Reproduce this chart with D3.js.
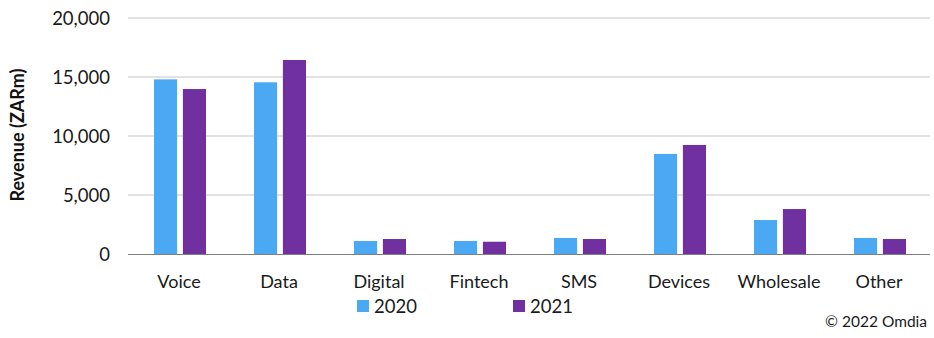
<!DOCTYPE html>
<html><head><meta charset="utf-8">
<script src="https://cdn.jsdelivr.net/npm/d3@7"></script>
<style>body{margin:0;background:#fff}svg{display:block}</style>
</head><body>
<svg id="c" width="934" height="338"></svg>
<script>
const categories = ["Voice","Data","Digital","Fintech","SMS","Devices","Wholesale","Other"];
const seriesNames = ["2020","2021"];
const values2020 = [14800,14550,1100,1100,1360,8480,2880,1360];
const values2021 = [13980,16440,1270,1040,1270,9240,3810,1270];
const yTicks = [0,5000,10000,15000,20000];
const colors = ["#4BA9F4","#7030A0"];
const font = "Lato, 'Open Sans', sans-serif";

const svg = d3.select("#c");
const x = d3.scaleBand().domain(categories).range([129,929]).paddingInner(0).paddingOuter(0);
const y = d3.scaleLinear().domain([0,20000]).range([254,18]);
const xi = d3.scaleBand().domain(seriesNames).range([25,77]).paddingInner(0.2);

// gridlines
svg.append("g").selectAll("line").data(yTicks.filter(d=>d>0)).join("line")
  .attr("x1",128).attr("x2",930).attr("y1",d=>y(d)).attr("y2",d=>y(d))
  .attr("stroke","#d9d9d9").attr("stroke-width",1.5);

// y tick labels
const yAxis = d3.axisLeft(y).tickValues(yTicks).tickFormat(d3.format(",")).tickSize(0).tickPadding(0);
const ya = svg.append("g").attr("transform","translate(110,0)").call(yAxis);
ya.select(".domain").remove();
ya.selectAll("text").attr("font-family",font).attr("font-size",18.5).attr("fill","#1a1a1a").attr("dy","0.35em");

// bars
const data = categories.map((c,i)=>({c, vals:[values2020[i],values2021[i]]}));
const g = svg.append("g").selectAll("g").data(data).join("g")
  .attr("transform",d=>`translate(${x(d.c)},0)`);
g.selectAll("rect").data(d=>d.vals.map((v,j)=>({s:seriesNames[j],v,j}))).join("rect")
  .attr("x",d=>xi(d.s)).attr("width",xi.bandwidth())
  .attr("y",d=>y(d.v)).attr("height",d=>y(0)-y(d.v))
  .attr("fill",d=>colors[d.j]);

// baseline
svg.append("line").attr("x1",128).attr("x2",930).attr("y1",254.5).attr("y2",254.5)
  .attr("stroke","#7f7f7f").attr("stroke-width",1.2);

// x axis labels
const xAxis = d3.axisBottom(x).tickSize(0).tickPadding(0);
const xa = svg.append("g").attr("transform","translate(0,288)").call(xAxis);
xa.select(".domain").remove();
xa.selectAll("text").attr("font-family",font).attr("font-size",18).attr("fill","#1a1a1a").attr("dy",0);

// y title
svg.append("text").attr("transform","translate(24,135) rotate(-90)")
  .attr("text-anchor","middle").attr("font-family",font).attr("font-size",18)
  .attr("font-weight","bold").attr("fill","#111").text("Revenue (ZARm)");

// legend
const legX = [357,513];
const lg = svg.append("g").selectAll("g").data(seriesNames).join("g")
  .attr("transform",(d,i)=>`translate(${legX[i]},0)`);
lg.append("rect").attr("x",0).attr("y",300).attr("width",12).attr("height",12)
  .attr("fill",(d,i)=>colors[i]);
lg.append("text").attr("x",17).attr("y",313).attr("font-family",font).attr("font-size",18.5)
  .attr("fill","#1a1a1a").text(d=>d);

// copyright
svg.append("text").attr("x",927).attr("y",327).attr("text-anchor","end")
  .attr("font-family",font).attr("font-size",15.5).attr("fill","#1a1a1a").text("© 2022 Omdia");
</script>
</body></html>
